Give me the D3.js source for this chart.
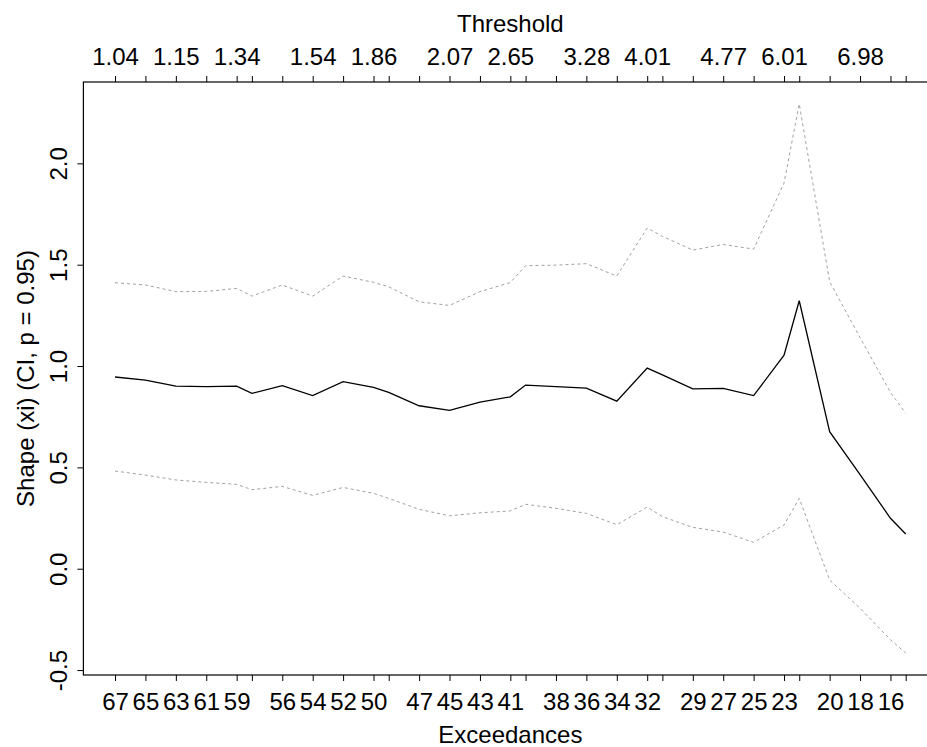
<!DOCTYPE html>
<html>
<head>
<meta charset="utf-8">
<script src="https://cdn.jsdelivr.net/npm/d3@7"></script>
<style>
  body { margin: 0; background: #fff; }
  svg { display: block; }
  text { font-family: "Liberation Sans", Arial, Helvetica, sans-serif; }
</style>
</head>
<body>
<div class="center"></div>
<script>
// number of exceedances used for each fitted model
const exceed = [67,65,63,61,59,58,56,54,52,50,49,47,45,43,41,40,38,36,34,32,31,29,27,25,23,22,20,18,16,15];
// threshold matching each exceedance count (top axis)
const threshold = ["1.04","1.10","1.15","1.20","1.34","1.36","1.45","1.54","1.67","1.86","1.90","1.98","2.07","2.25","2.65",
                   "2.78","3.06","3.28","3.59","4.01","4.31","4.50","4.77","5.31","6.01","6.22","6.53","6.98","7.78","8.21"];
// shape estimate and confidence bounds
const shapeEst = [0.946,0.931,0.901,0.898,0.901,0.865,0.903,0.854,0.923,0.895,0.870,0.804,0.781,0.822,0.848,
                  0.906,0.898,0.891,0.827,0.990,0.956,0.887,0.890,0.854,1.054,1.322,0.676,0.464,0.249,0.171];
const upperCI = [1.411,1.400,1.367,1.368,1.383,1.345,1.400,1.345,1.444,1.413,1.391,1.317,1.299,1.367,1.412,
                 1.495,1.498,1.505,1.444,1.681,1.640,1.572,1.600,1.577,1.903,2.293,1.416,1.140,0.870,0.767];
const lowerCI = [0.482,0.462,0.438,0.426,0.416,0.390,0.406,0.362,0.401,0.372,0.347,0.293,0.261,0.276,0.285,
                 0.318,0.298,0.273,0.217,0.304,0.257,0.204,0.181,0.130,0.216,0.347,-0.056,-0.195,-0.350,-0.416];
const yTicks = [-0.5,0,0.5,1,1.5,2];

const W = 927, H = 747;
const box = {left: 83.4, right: 937.3, top: 82, bottom: 675};
const fontSize = 24;

const svg = d3.select(".center").append("svg")
    .attr("width", W)
    .attr("height", H);

// x runs on minus the exceedances (reversed), padded 4% like R
const index = exceed.map(d => -d);
const xExt = d3.extent(index);
const xPad = (xExt[1] - xExt[0]) * 0.04;
const xScale = d3.scaleLinear()
    .domain([xExt[0] - xPad, xExt[1] + xPad])
    .range([box.left, box.right]);

const allY = shapeEst.concat(upperCI, lowerCI);
const yExt = d3.extent(allY);
const yPad = (yExt[1] - yExt[0]) * 0.04;
const yScale = d3.scaleLinear()
    .domain([yExt[0] - yPad, yExt[1] + yPad])
    .range([box.bottom, box.top]);

// hide labels that would overlap the last one drawn
function thinLabels(g) {
  let lastRight = -Infinity;
  g.selectAll(".tick text").each(function() {
    const bb = this.getBBox();
    const tr = this.parentNode.getAttribute("transform");
    const tx = +tr.match(/translate\(([-\d.]+)/)[1];
    const left = tx + bb.x, right = tx + bb.x + bb.width;
    if (left < lastRight + 1) d3.select(this).remove();
    else lastRight = right;
  });
}

// bottom axis: exceedances
const xAxisB = d3.axisBottom(xScale)
    .tickValues(index)
    .tickFormat((d, i) => String(exceed[i]))
    .tickSize(6).tickSizeOuter(0).tickPadding(11.5);
const gB = svg.append("g")
    .attr("transform", `translate(0,${box.bottom})`)
    .call(xAxisB);
gB.select(".domain").remove();
gB.selectAll("text").style("font-size", fontSize + "px").attr("fill", "#000");
thinLabels(gB);

// top axis: thresholds
const xAxisT = d3.axisTop(xScale)
    .tickValues(index)
    .tickFormat((d, i) => threshold[i])
    .tickSize(6).tickSizeOuter(0).tickPadding(11);
const gT = svg.append("g")
    .attr("transform", `translate(0,${box.top})`)
    .call(xAxisT);
gT.select(".domain").remove();
gT.selectAll("text").style("font-size", fontSize + "px").attr("fill", "#000");
thinLabels(gT);

// left axis with rotated labels
const yAxis = d3.axisLeft(yScale)
    .tickValues(yTicks)
    .tickFormat(d3.format(".1f"))
    .tickSize(6).tickSizeOuter(0);
const gL = svg.append("g")
    .attr("transform", `translate(${box.left},0)`)
    .call(yAxis);
gL.select(".domain").remove();
gL.selectAll("text")
    .attr("x", null).attr("dy", null)
    .attr("text-anchor", "middle")
    .attr("transform", "translate(-16.4,0) rotate(-90)")
    .style("font-size", fontSize + "px")
    .attr("fill", "#000")
    .text(d => d < 0 ? "-" + Math.abs(d).toFixed(1) : d.toFixed(1));
gL.selectAll("line").attr("stroke", "#000");

// plot box
svg.append("rect")
    .attr("x", box.left)
    .attr("y", box.top)
    .attr("width", box.right - box.left)
    .attr("height", box.bottom - box.top)
    .attr("fill", "none")
    .attr("stroke", "#000")
    .attr("stroke-width", 1.2);

// lines
const line = d3.line()
    .x((d, i) => xScale(index[i]))
    .y(d => yScale(d));

svg.append("path")
    .datum(upperCI)
    .attr("d", line)
    .attr("fill", "none")
    .attr("stroke", "#a0a0a0")
    .attr("stroke-width", 1)
    .attr("stroke-dasharray", "3,3");

svg.append("path")
    .datum(lowerCI)
    .attr("d", line)
    .attr("fill", "none")
    .attr("stroke", "#a0a0a0")
    .attr("stroke-width", 1)
    .attr("stroke-dasharray", "3,3");

svg.append("path")
    .datum(shapeEst)
    .attr("d", line)
    .attr("fill", "none")
    .attr("stroke", "#000")
    .attr("stroke-width", 1.3);

// axis titles
const midX = (box.left + box.right) / 2;
svg.append("text")
    .attr("x", midX).attr("y", 31.5)
    .attr("text-anchor", "middle")
    .style("font-size", fontSize + "px")
    .text("Threshold");

svg.append("text")
    .attr("x", midX).attr("y", 743)
    .attr("text-anchor", "middle")
    .style("font-size", fontSize + "px")
    .text("Exceedances");

svg.append("text")
    .attr("transform", `translate(33.5,${(box.top + box.bottom) / 2}) rotate(-90)`)
    .attr("text-anchor", "middle")
    .style("font-size", fontSize + "px")
    .text("Shape (xi) (CI, p = 0.95)");
</script>
</body>
</html>
